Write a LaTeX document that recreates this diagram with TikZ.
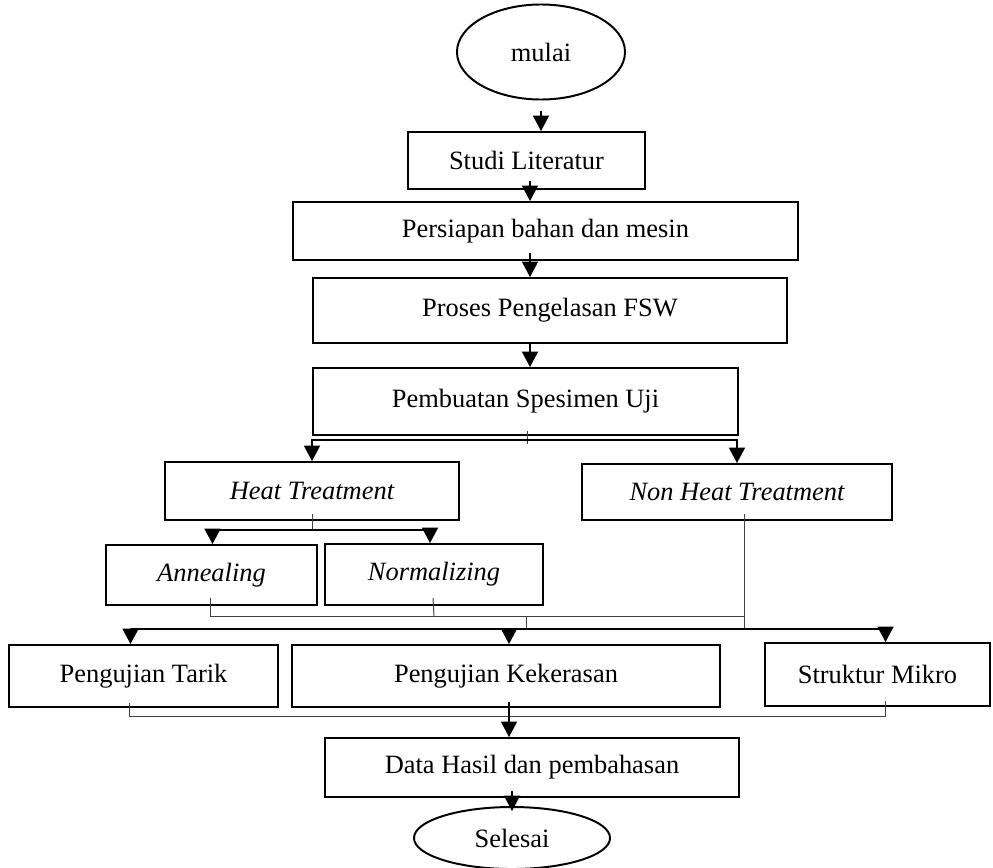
\documentclass[tikz,border=0pt]{standalone}
\usepackage{fontspec}
\setmainfont{Liberation Serif}
\usetikzlibrary{arrows.meta,shapes.geometric,calc}
\begin{document}
\begin{tikzpicture}[x=0.025cm,y=-0.025cm,
    kotak/.style={draw,line width=1.4pt,inner sep=0pt},
    elips/.style={draw,ellipse,line width=1.4pt,inner sep=0pt},
    panah/.style={-{Triangle[width=11.5pt,length=11pt]},line width=0.9pt},
    garis/.style={line width=0.7pt,draw=black!75},
    font=\fontsize{18.8}{22}\selectfont]
    \useasboundingbox (0,0) rectangle (993,868);
    \coordinate (sumbu) at (530,0);%sumbu panah atas
    \node[elips,minimum width=4.2cm,minimum height=2.375cm] (mulai) at (541,52) {mulai};
    \node[elips,minimum width=4.9cm,minimum height=1.55cm] (selesai) at (512,838) {Selesai};
    \foreach \n/\x/\y/\w/\h/\t in {
        studi/526.5/160.5/5.925/1.425/Studi Literatur,
        persiapan/545.5/231/12.625/1.45/Persiapan bahan dan mesin,
        proses/550/310.5/11.85/1.625/Proses Pengelasan FSW,
        pembuatan/525.5/401.5/10.625/1.675/Pembuatan Spesimen Uji,
        heat/312/491/7.35/1.45/{\itshape Heat Treatment},
        nonheat/737/492/7.75/1.4/{\itshape Non Heat Treatment},
        anneal/211.5/575/5.275/1.5/{\itshape Annealing},
        normal/434/574.5/5.45/1.525/{\itshape Normalizing},
        tarik/143.5/676/6.725/1.55/Pengujian Tarik,
        keras/506/676/10.7/1.55/Pengujian Kekerasan,
        mikro/877.5/674.5/5.625/1.575/Struktur Mikro,
        data/532/767.5/10.35/1.475/Data Hasil dan pembahasan}
    \node[kotak,minimum width=\w cm,minimum height=\h cm] (\n) at (\x,\y) {\t};
    % alur atas
    \draw[panah] ($(mulai.south)+(0,11)$) -- (mulai.south |- studi.north);
    \draw[panah] ($(studi.south -| sumbu)+(0,-9)$) -- (sumbu |- persiapan.north);
    \draw[panah] ($(persiapan.south -| sumbu)+(0,-8)$) -- (sumbu |- proses.north);
    \draw[panah] (proses.south -| sumbu) -- (sumbu |- pembuatan.north);
    % cabang spesimen
    \coordinate (cab1) at ($(pembuatan.south)+(0,4)$);
    \draw[garis] ($(pembuatan.south)+(2,-5)$) -- ++(0,13);
    \draw[panah] (cab1) -| (heat.north);
    \draw[panah] (cab1) -| (nonheat.north);
    % cabang heat treatment
    \coordinate (cab2) at ($(heat.south)+(0,9)$);
    \draw[garis] ($(heat.south)+(0,-7)$) -- (cab2);
    \draw[panah] (cab2) -| ($(anneal.north)+(1,0)$);
    \draw[panah] (cab2) -| ($(normal.north)+(-4,0)$);
    % gabung ke pengujian
    \coordinate (tiang) at ($(nonheat.south)+(7,0)$);
    \coordinate (gab) at ($(anneal.south)+(-1,10)$);
    \coordinate (cab3) at ($(gab)+(316,13)$);
    \draw[garis] ($(anneal.south)+(-1,-8)$) -- (gab) -- (gab -| tiang);
    \draw[garis] ($(normal.south)+(-1,-8)$) -- (gab -| normal.south);
    \draw[garis] ($(tiang)+(0,-7)$) -- (tiang |- cab3);
    \draw[garis] (cab3) -- ++(0,-13);
    \draw[panah] (cab3) -| ($(tarik.north)+(-13,0)$);
    \draw[panah] (cab3) -| ($(keras.north)+(3,0)$);
    \draw[panah] (cab3) -| ($(mikro.north)+(8,0)$);
    % hasil
    \coordinate (cab4) at ($(keras.south)+(3,9)$);
    \draw[garis] ($(tarik.south)+(-14,-5)$) |- ($(mikro.south)+(8,9)$) -- ++(0,-15);
    \draw[panah] ($(keras.south)+(3,-6)$) -- (cab4 |- data.north);
    \draw[panah] ($(selesai.north)+(0,-15)$) -- ($(selesai.north)+(0,5)$);
\end{tikzpicture}
\end{document}
